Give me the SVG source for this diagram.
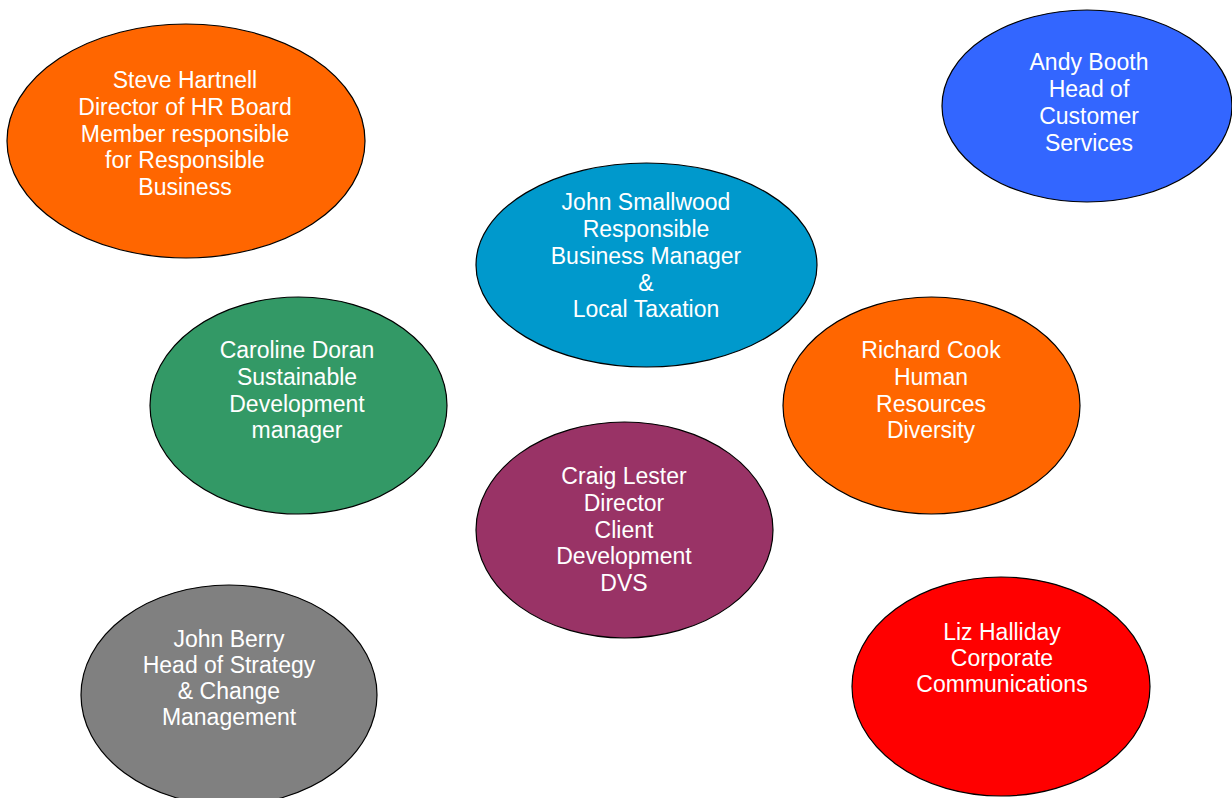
<svg xmlns="http://www.w3.org/2000/svg" width="1232" height="798" viewBox="0 0 1232 798">
  <style>
    .node { stroke: #000000; stroke-width: 1.2; }
    .label { font-family: "Liberation Sans", Arial, sans-serif; font-size: 23px; fill: #ffffff; text-anchor: middle; }
  </style>
  <rect x="0" y="0" width="1232" height="798" fill="#ffffff"/>

  <g id="steve-hartnell">
    <ellipse class="node" cx="186" cy="141" rx="179" ry="117" fill="#ff6600"/>
    <text class="label" x="185" y="88">Steve Hartnell</text>
    <text class="label" x="185" y="115">Director of HR Board</text>
    <text class="label" x="185" y="142">Member responsible</text>
    <text class="label" x="185" y="168">for Responsible</text>
    <text class="label" x="185" y="195">Business</text>
  </g>

  <g id="andy-booth">
    <ellipse class="node" cx="1087" cy="106" rx="145" ry="96" fill="#3366ff"/>
    <text class="label" x="1089" y="70">Andy Booth</text>
    <text class="label" x="1089" y="97">Head of</text>
    <text class="label" x="1089" y="124">Customer</text>
    <text class="label" x="1089" y="151">Services</text>
  </g>

  <g id="john-smallwood">
    <ellipse class="node" cx="646.5" cy="265" rx="170.5" ry="102" fill="#0099cc"/>
    <text class="label" x="646" y="210">John Smallwood</text>
    <text class="label" x="646" y="237">Responsible</text>
    <text class="label" x="646" y="264">Business Manager</text>
    <text class="label" x="646" y="291">&amp;</text>
    <text class="label" x="646" y="317">Local Taxation</text>
  </g>

  <g id="caroline-doran">
    <ellipse class="node" cx="298.5" cy="405.5" rx="148.5" ry="108.5" fill="#339966"/>
    <text class="label" x="297" y="358">Caroline Doran</text>
    <text class="label" x="297" y="385">Sustainable</text>
    <text class="label" x="297" y="412">Development</text>
    <text class="label" x="297" y="438">manager</text>
  </g>

  <g id="richard-cook">
    <ellipse class="node" cx="931.5" cy="405.5" rx="148.5" ry="108.5" fill="#ff6600"/>
    <text class="label" x="931" y="358">Richard Cook</text>
    <text class="label" x="931" y="385">Human</text>
    <text class="label" x="931" y="412">Resources</text>
    <text class="label" x="931" y="438">Diversity</text>
  </g>

  <g id="craig-lester">
    <ellipse class="node" cx="624.5" cy="530" rx="148.5" ry="108" fill="#993366"/>
    <text class="label" x="624" y="484">Craig Lester</text>
    <text class="label" x="624" y="511">Director</text>
    <text class="label" x="624" y="538">Client</text>
    <text class="label" x="624" y="564">Development</text>
    <text class="label" x="624" y="591">DVS</text>
  </g>

  <g id="john-berry">
    <ellipse class="node" cx="229" cy="695" rx="148" ry="110" fill="#808080"/>
    <text class="label" x="229" y="647">John Berry</text>
    <text class="label" x="229" y="673">Head of Strategy</text>
    <text class="label" x="229" y="699">&amp; Change</text>
    <text class="label" x="229" y="725">Management</text>
  </g>

  <g id="liz-halliday">
    <ellipse class="node" cx="1001" cy="686.5" rx="149" ry="109.5" fill="#ff0000"/>
    <text class="label" x="1002" y="640">Liz Halliday</text>
    <text class="label" x="1002" y="666">Corporate</text>
    <text class="label" x="1002" y="692">Communications</text>
  </g>

  <g id="connectors"/>
</svg>
